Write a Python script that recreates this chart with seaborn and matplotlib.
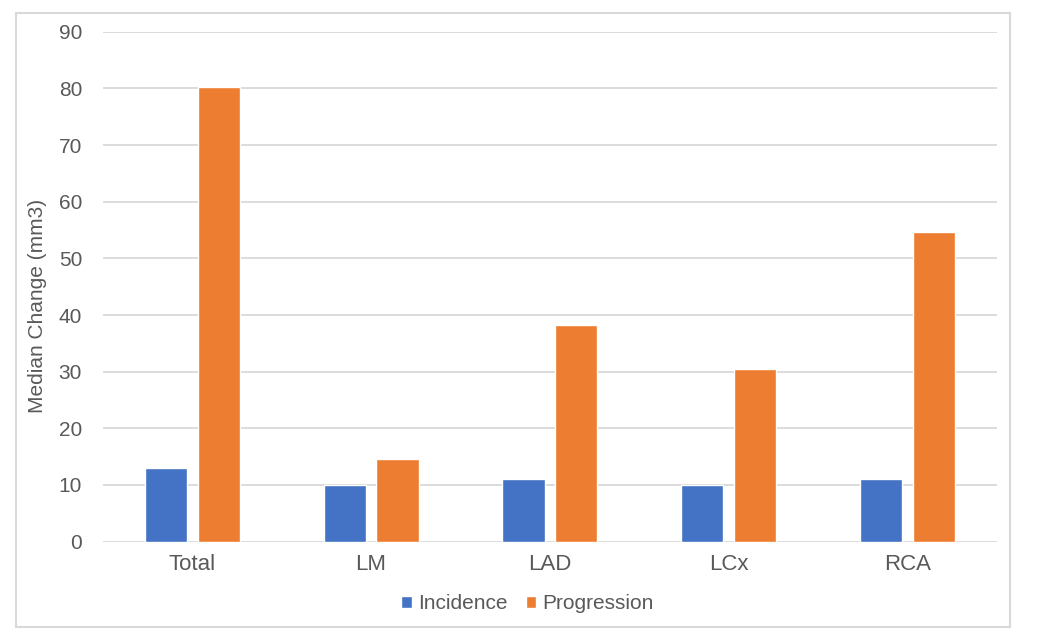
import pandas as pd
import matplotlib.pyplot as plt
import seaborn as sns

# Datos
segmentos = ['Total', 'LM', 'LAD', 'LCx', 'RCA']
incidencia = [13.0, 10.0, 11.1, 10.0, 11.1]
progresion = [80.2, 14.6, 38.2, 30.5, 54.7]
series = ['Incidence', 'Progression']
colores = ['#4472C4', '#ED7D31']

df = pd.DataFrame({
    'segmento': segmentos * 2,
    'serie': [series[0]] * len(segmentos) + [series[1]] * len(segmentos),
    'valor': incidencia + progresion,
})

sns.set_style('white')
plt.rcParams['font.family'] = ['Liberation Sans', 'DejaVu Sans']

fig = plt.figure(figsize=(10.5, 6.41), dpi=100)
ax = fig.add_axes([0.098, 0.155, 0.8515, 0.7955])

sns.barplot(data=df, x='segmento', y='valor', hue='serie', palette=colores,
            width=0.59, gap=0.2, ax=ax, saturation=1)

ax.set_ylim(0, 90)
ax.set_yticks(range(0, 91, 10))
ax.set_xlim(-0.5, 4.5)
ax.grid(axis='y', color='#D9D9D9', linewidth=1.3)
ax.set_axisbelow(True)
for s in ax.spines.values():
    s.set_visible(False)
ax.tick_params(axis='y', length=0, labelsize=15, labelcolor='#595959', pad=15)
ax.tick_params(axis='x', length=0, labelsize=16, labelcolor='#595959', pad=9)
ax.set_xlabel('')
ax.set_ylabel('Median Change (mm3)', fontsize=15, color='#595959')
ax.yaxis.set_label_coords(-0.063, 0.462)

ax.legend(loc='upper center', bbox_to_anchor=(0.475, -0.066), ncol=2, frameon=False,
          fontsize=15, labelcolor='#595959', handlelength=0.5, handleheight=0.5,
          handletextpad=0.3, columnspacing=0.9)

# Borde exterior del grafico
borde = plt.Rectangle((0.015, 0.022), 0.947, 0.957, transform=fig.transFigure,
                      fill=False, edgecolor='#D9D9D9', linewidth=1.5)
fig.patches.append(borde)

fig.savefig('out.png', dpi=100, facecolor='white')
